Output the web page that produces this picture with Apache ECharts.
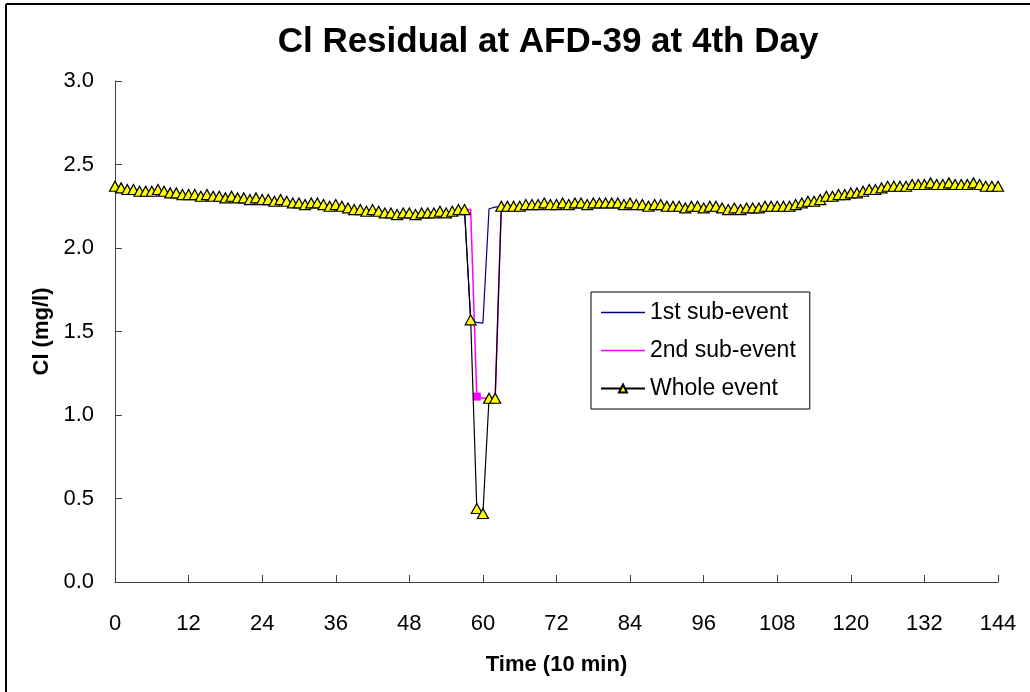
<!DOCTYPE html>
<html>
<head>
<meta charset="utf-8">
<script src="https://cdn.jsdelivr.net/npm/echarts@6/dist/echarts.min.js"></script>
<style>
html,body{margin:0;padding:0;background:#fff;}
#chart{width:1030px;height:692px;}
</style>
</head>
<body>
<div id="chart"></div>
<script>
// Time steps (10 min) 0..144 for the whole event
const wholeEvent = [
  2.37, 2.36, 2.35, 2.35, 2.34, 2.34, 2.34, 2.35, 2.34, 2.33,
  2.33, 2.32, 2.32, 2.32, 2.31, 2.32, 2.31, 2.31, 2.30, 2.31,
  2.30, 2.30, 2.29, 2.30, 2.29, 2.29, 2.28, 2.29, 2.28, 2.27,
  2.27, 2.26, 2.27, 2.27, 2.26, 2.25, 2.26, 2.25, 2.24, 2.23,
  2.23, 2.22, 2.23, 2.22, 2.21, 2.21, 2.20, 2.21, 2.21, 2.20,
  2.21, 2.21, 2.21, 2.22, 2.21, 2.22, 2.23, 2.23, 1.57, 0.44,
  0.41, 1.10, 1.10, 2.25, 2.25, 2.25, 2.25, 2.26, 2.26, 2.26,
  2.27, 2.26, 2.26, 2.27, 2.26, 2.27, 2.27, 2.26, 2.27, 2.27,
  2.27, 2.27, 2.27, 2.26, 2.27, 2.26, 2.26, 2.25, 2.26, 2.26,
  2.25, 2.25, 2.25, 2.24, 2.25, 2.25, 2.24, 2.25, 2.25, 2.24,
  2.23, 2.24, 2.23, 2.24, 2.24, 2.24, 2.25, 2.25, 2.25, 2.25,
  2.25, 2.26, 2.27, 2.28, 2.28, 2.29, 2.31, 2.31, 2.32, 2.32,
  2.33, 2.33, 2.34, 2.35, 2.35, 2.36, 2.37, 2.37, 2.37, 2.37,
  2.38, 2.38, 2.38, 2.39, 2.38, 2.38, 2.39, 2.38, 2.38, 2.38,
  2.39, 2.38, 2.37, 2.37, 2.37
];
// Sub-event series around the event (elsewhere they coincide with the whole event)
const subTimes = [55, 56, 57, 58, 59, 60, 61, 62, 63, 64, 65];
const firstSub = [2.22, 2.23, 2.23, 1.57, 1.555, 1.55, 2.235, 2.245, 2.25, 2.25, 2.25];
const secondSub = [2.22, 2.23, 2.23, 2.23, 1.11, 1.10, 1.10, 1.10, 2.25, 2.25, 2.25];
const secondSubMarkedTime = 59;
const xTicks = [0, 12, 24, 36, 48, 60, 72, 84, 96, 108, 120, 132, 144];
const seriesNames = ['1st sub-event', '2nd sub-event', 'Whole event'];

const FONT = "'Liberation Sans', Arial, sans-serif";
const chart = echarts.init(document.getElementById('chart'), null, {renderer: 'canvas'});

const wholeData = wholeEvent.map((v, i) => [i, v]);
const firstData = subTimes.map((t, i) => [t, firstSub[i]]);
const secondData = subTimes.map((t, i) => {
  if (t === secondSubMarkedTime) {
    return {value: [t, secondSub[i]], symbol: 'rect', symbolSize: 8,
            itemStyle: {color: '#FF00FF', borderColor: '#FF00FF', borderWidth: 0}};
  }
  return [t, secondSub[i]];
});

const LINE_ICON = 'path://M0,0L44,0L44,1.4L0,1.4Z';

const option = {
  animation: false,
  backgroundColor: '#ffffff',
  textStyle: {fontFamily: FONT},
  graphic: [
    {type: 'line', shape: {x1: 6, y1: 4, x2: 1030, y2: 4}, style: {stroke: '#000', lineWidth: 2}},
    {type: 'line', shape: {x1: 6, y1: 4, x2: 6, y2: 692}, style: {stroke: '#000', lineWidth: 2}},
    {type: 'text', x: 548, y: 42,
     style: {text: 'Cl Residual at AFD-39 at 4th Day', fontFamily: FONT, fontWeight: 'bold',
             fontSize: 35, fill: '#000', textAlign: 'center', textVerticalAlign: 'middle'}}
  ],
  grid: {left: 115, right: 32, top: 81, bottom: 110, containLabel: false},
  legend: {
    orient: 'vertical',
    left: 591, top: 292,
    data: [
      {name: seriesNames[0], icon: LINE_ICON},
      {name: seriesNames[1], icon: LINE_ICON},
      {name: seriesNames[2]}
    ],
    symbolKeepAspect: true,
    backgroundColor: '#fff',
    borderColor: '#000', borderWidth: 1,
    padding: [9, 14, 9, 9],
    itemWidth: 44, itemHeight: 10, itemGap: 15,
    textStyle: {fontFamily: FONT, fontSize: 23, color: '#000', lineHeight: 22}
  },
  xAxis: {
    type: 'value', min: 0, max: 144, interval: 12,
    name: 'Time (10 min)', nameLocation: 'middle', nameGap: 72,
    nameTextStyle: {fontFamily: FONT, fontWeight: 'bold', fontSize: 22, color: '#000'},
    axisLine: {show: true, lineStyle: {color: '#404040', width: 1}},
    axisTick: {show: true, inside: true, length: 7, lineStyle: {color: '#404040'}},
    axisLabel: {fontFamily: FONT, fontSize: 22, color: '#000', margin: 31,
                formatter: v => xTicks.includes(v) ? String(v) : ''},
    splitLine: {show: false}
  },
  yAxis: {
    type: 'value', min: 0, max: 3, interval: 0.5,
    name: 'Cl (mg/l)', nameLocation: 'middle', nameGap: 62, nameRotate: 90,
    nameTextStyle: {fontFamily: FONT, fontWeight: 'bold', fontSize: 22, color: '#000'},
    axisLine: {show: true, lineStyle: {color: '#404040', width: 1}},
    axisTick: {show: true, inside: true, length: 7, lineStyle: {color: '#404040'}},
    axisLabel: {fontFamily: FONT, fontSize: 22, color: '#000', margin: 21,
                formatter: v => v.toFixed(1)},
    splitLine: {show: false}
  },
  series: [
    {name: seriesNames[0], type: 'line', data: firstData, symbol: 'none',
     lineStyle: {color: '#000080', width: 1.2}, itemStyle: {color: '#000080'}, z: 2},
    {name: seriesNames[1], type: 'line', data: secondData, symbol: 'none',
     lineStyle: {color: '#FF00FF', width: 1.5}, itemStyle: {color: '#FF00FF'}, z: 3},
    {name: seriesNames[2], type: 'line', data: wholeData, symbol: 'triangle', symbolSize: [11, 10],
     lineStyle: {color: '#000', width: 1.2},
     itemStyle: {color: '#FFFF00', borderColor: '#000', borderWidth: 1.2}, z: 4}
  ]
};
chart.setOption(option);
</script>
</body>
</html>
